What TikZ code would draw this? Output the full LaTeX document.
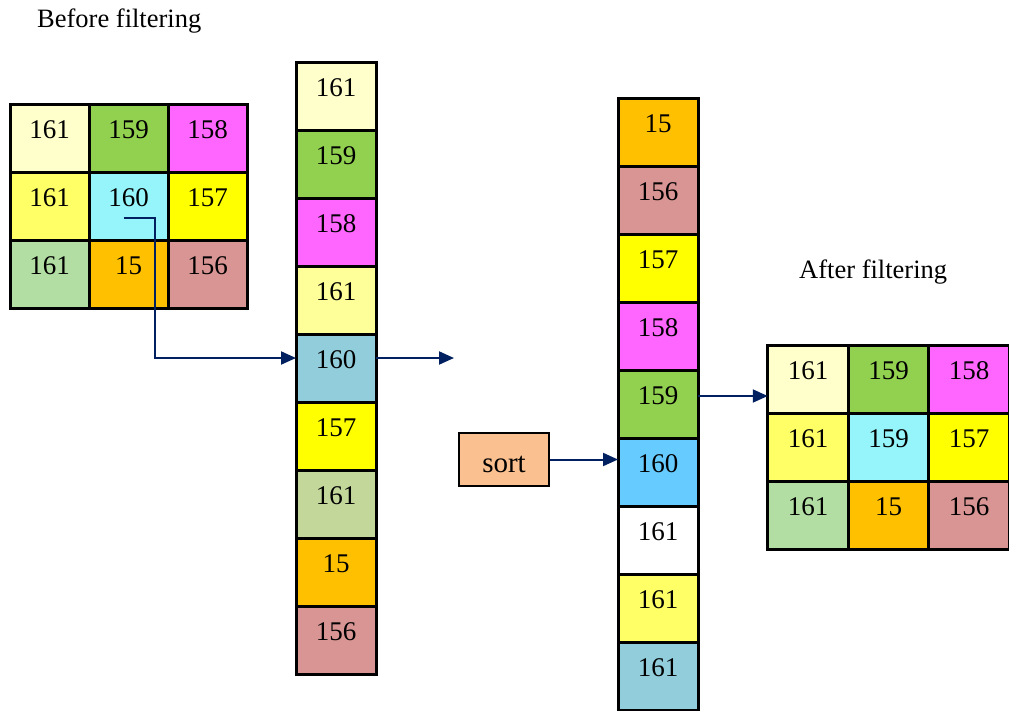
\documentclass[tikz,border=0pt]{standalone}
\usepackage{fontspec}
\setmainfont{Liberation Serif}
\usetikzlibrary{arrows.meta}
\definecolor{navy}{HTML}{002060}
\definecolor{cLtYel}{HTML}{FFFFCC}
\definecolor{cGreen}{HTML}{92D050}
\definecolor{cMag}{HTML}{FF66FF}
\definecolor{cYel}{HTML}{FFFF66}
\definecolor{cPaleYel}{HTML}{FFFF99}
\definecolor{cCyan}{HTML}{96F5FA}
\definecolor{cYellow}{HTML}{FFFF00}
\definecolor{cLtGreen}{HTML}{B3DEA3}
\definecolor{cOlive}{HTML}{C4D79B}
\definecolor{cOrange}{HTML}{FFC000}
\definecolor{cRose}{HTML}{D99594}
\definecolor{cBlueGrey}{HTML}{92CDDC}
\definecolor{cSky}{HTML}{66CCFF}
\definecolor{cSort}{HTML}{FAC090}
\begin{document}
\begin{tikzpicture}[x=1pt,y=-1pt,
  cell/.style={draw=black, line width=3pt, inner sep=0pt, outer sep=0pt,
    minimum width=79pt, minimum height=68pt, text depth=16pt,
    font=\fontsize{27}{32}\selectfont},
  colcell/.style={cell, minimum width=80pt},
  gridcell/.style={cell, minimum width=80.5pt},
  conn/.style={draw=navy, line width=2pt, -{Triangle[length=15pt,width=13pt]}},
  lbl/.style={anchor=base west, inner sep=0pt, font=\fontsize{26.5}{30}\selectfont}]
\clip (0,0) rectangle (1009,710);
% labels
\node[lbl] (before) at (37,27.5) {Before filtering};
\node[lbl] (after) at (799,278) {After filtering};
% left grid
\node[cell, fill=cLtYel]   (L11) at (49.5,138) {161};
\node[cell, fill=cGreen]   (L12) at (128.5,138) {159};
\node[cell, fill=cMag]     (L13) at (207.5,138) {158};
\node[cell, fill=cYel]     (L21) at (49.5,206) {161};
\node[cell, fill=cCyan]    (L22) at (128.5,206) {160};
\node[cell, fill=cYellow]  (L23) at (207.5,206) {157};
\node[cell, fill=cLtGreen] (L31) at (49.5,274) {161};
\node[cell, fill=cOrange]  (L32) at (128.5,274) {15};
\node[cell, fill=cRose]    (L33) at (207.5,274) {156};
% middle column
\node[colcell, fill=cLtYel]    (M1) at (336,96) {161};
\node[colcell, fill=cGreen]    (M2) at (336,164) {159};
\node[colcell, fill=cMag]      (M3) at (336,232) {158};
\node[colcell, fill=cPaleYel]  (M4) at (336,300) {161};
\node[colcell, fill=cBlueGrey] (M5) at (336,368) {160};
\node[colcell, fill=cYellow]   (M6) at (336,436) {157};
\node[colcell, fill=cOlive]    (M7) at (336,504) {161};
\node[colcell, fill=cOrange]   (M8) at (336,572) {15};
\node[colcell, fill=cRose]     (M9) at (336,640) {156};
% sorted column
\node[colcell, fill=cOrange]   (S1) at (658,132) {15};
\node[colcell, fill=cRose]     (S2) at (658,200) {156};
\node[colcell, fill=cYellow]   (S3) at (658,268) {157};
\node[colcell, fill=cMag]      (S4) at (658,336) {158};
\node[colcell, fill=cGreen]    (S5) at (658,404) {159};
\node[colcell, fill=cSky]      (S6) at (658,472) {160};
\node[colcell, fill=white]     (S7) at (658,540) {161};
\node[colcell, fill=cYel]      (S8) at (658,608) {161};
\node[colcell, fill=cBlueGrey] (S9) at (658,676) {161};
% right grid
\node[gridcell, fill=cLtYel]   (R11) at (808,379) {161};
\node[gridcell, fill=cGreen]   (R12) at (888.5,379) {159};
\node[gridcell, fill=cMag]     (R13) at (969,379) {158};
\node[gridcell, fill=cYel]     (R21) at (808,447) {161};
\node[gridcell, fill=cCyan]    (R22) at (888.5,447) {159};
\node[gridcell, fill=cYellow]  (R23) at (969,447) {157};
\node[gridcell, fill=cLtGreen] (R31) at (808,515) {161};
\node[gridcell, fill=cOrange]  (R32) at (888.5,515) {15};
\node[gridcell, fill=cRose]    (R33) at (969,515) {156};
% sort box
\node[draw=black, line width=2pt, fill=cSort, minimum width=90pt, minimum height=53pt,
  inner sep=0pt, text height=26pt, text depth=0pt,
  font=\fontsize{29}{34}\selectfont] (sort) at (504,459.5) {sort};
% connectors
\coordinate (start) at ([shift={(-5,12)}]L22.center);
\coordinate (bend) at (155,358);
\coordinate (free) at (454,358);
\draw[conn] (start) -| (bend) -- ([yshift=10pt]M5.west);
\draw[conn] ([yshift=10pt]M5.east) -- (free);
\draw[conn] (sort.east) -- (sort.east -| S6.west);
\draw[conn] ([yshift=8pt]S5.east) -- ([yshift=8pt]S5.east -| R11.west);
\end{tikzpicture}
\end{document}
